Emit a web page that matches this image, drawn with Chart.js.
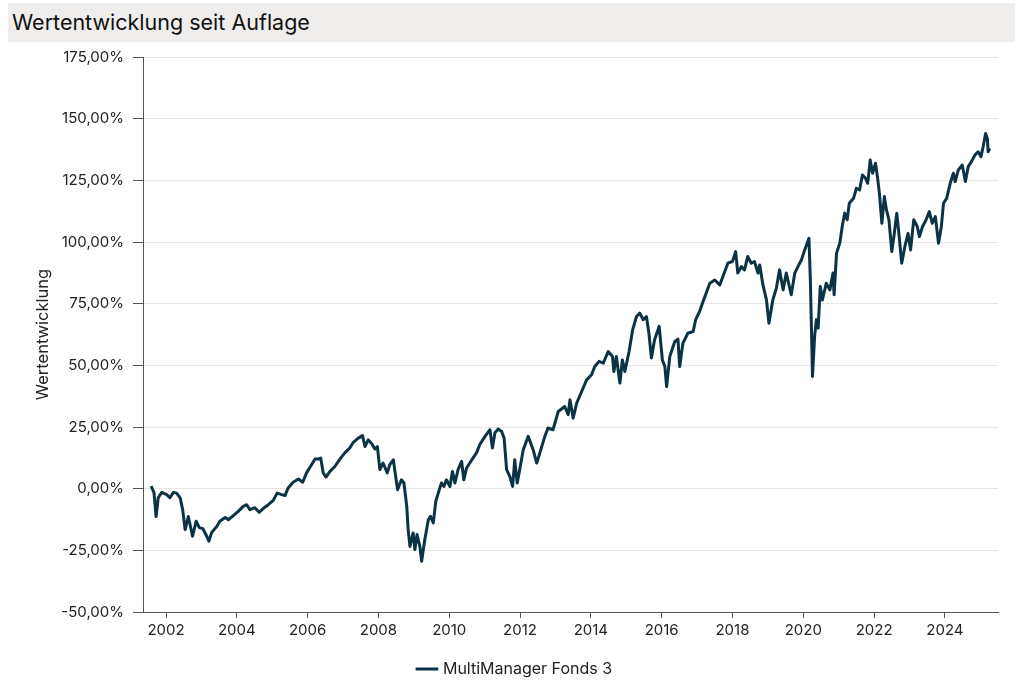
<!DOCTYPE html>
<html>
<head>
<meta charset="utf-8">
<script src="https://cdn.jsdelivr.net/npm/chart.js@4.4.1/dist/chart.umd.min.js"></script>
<style>
  html, body { margin: 0; padding: 0; background: #ffffff; }
  #wrap { position: relative; width: 1019px; height: 680px; }
  #title { position: absolute; left: 8px; top: 3px; width: 1007px; height: 39px; background: #efeeec;
           font-family: Inter, "Noto Sans", sans-serif; font-size: 21.5px; color: #111;
           line-height: 39px; padding-left: 4px; box-sizing: border-box; }
  #c { position: absolute; left: 0; top: 0; }
</style>
</head>
<body>
<div id="wrap">
  <canvas id="c" width="1019" height="680"></canvas>
  <div id="title">Wertentwicklung seit Auflage</div>
</div>
<script>
const seriesName = "MultiManager Fonds 3";
const yAxisTitle = "Wertentwicklung";
const yearTicks = [2002, 2004, 2006, 2008, 2010, 2012, 2014, 2016, 2018, 2020, 2022, 2024];
const valueTicks = [-50, -25, 0, 25, 50, 75, 100, 125, 150, 175];

const dates = [
  2001.58, 2001.66, 2001.72, 2001.78, 2001.88, 2002.02, 2002.11, 2002.21, 2002.30, 2002.40,
  2002.47, 2002.54, 2002.63, 2002.75, 2002.85, 2002.94, 2003.04, 2003.15, 2003.21, 2003.29,
  2003.43, 2003.52, 2003.67, 2003.76, 2003.90, 2004.04, 2004.18, 2004.28, 2004.37, 2004.51,
  2004.63, 2004.77, 2004.89, 2005.03, 2005.14, 2005.27, 2005.36, 2005.45, 2005.59, 2005.74,
  2005.86, 2005.97, 2006.11, 2006.21, 2006.30, 2006.37, 2006.44, 2006.52, 2006.63, 2006.77,
  2006.91, 2007.05, 2007.19, 2007.29, 2007.43, 2007.55, 2007.62, 2007.71, 2007.81, 2007.90,
  2007.97, 2008.04, 2008.13, 2008.25, 2008.32, 2008.42, 2008.54, 2008.65, 2008.72, 2008.80,
  2008.84, 2008.89, 2008.98, 2009.03, 2009.09, 2009.17, 2009.22, 2009.31, 2009.41, 2009.47,
  2009.55, 2009.62, 2009.72, 2009.78, 2009.85, 2009.92, 2010.02, 2010.09, 2010.16, 2010.25,
  2010.35, 2010.41, 2010.49, 2010.58, 2010.67, 2010.77, 2010.86, 2011.01, 2011.15, 2011.22,
  2011.29, 2011.38, 2011.48, 2011.55, 2011.62, 2011.71, 2011.79, 2011.85, 2011.92, 2011.99,
  2012.09, 2012.23, 2012.37, 2012.47, 2012.56, 2012.70, 2012.79, 2012.93, 2013.08, 2013.26,
  2013.36, 2013.41, 2013.50, 2013.60, 2013.74, 2013.88, 2014.02, 2014.11, 2014.23, 2014.35,
  2014.49, 2014.61, 2014.65, 2014.72, 2014.82, 2014.89, 2014.96, 2015.08, 2015.18, 2015.29,
  2015.38, 2015.48, 2015.57, 2015.64, 2015.71, 2015.80, 2015.93, 2016.02, 2016.09, 2016.14,
  2016.23, 2016.37, 2016.46, 2016.51, 2016.60, 2016.74, 2016.89, 2016.96, 2017.07, 2017.17,
  2017.36, 2017.50, 2017.64, 2017.73, 2017.87, 2018.00, 2018.09, 2018.15, 2018.25, 2018.34,
  2018.43, 2018.53, 2018.62, 2018.72, 2018.77, 2018.86, 2018.96, 2019.03, 2019.14, 2019.24,
  2019.33, 2019.43, 2019.52, 2019.66, 2019.76, 2019.85, 2019.95, 2020.04, 2020.16, 2020.20,
  2020.26, 2020.32, 2020.37, 2020.42, 2020.48, 2020.54, 2020.65, 2020.75, 2020.84, 2020.87,
  2020.94, 2021.03, 2021.10, 2021.17, 2021.24, 2021.30, 2021.42, 2021.50, 2021.59, 2021.67,
  2021.76, 2021.82, 2021.89, 2021.96, 2022.04, 2022.10, 2022.15, 2022.22, 2022.29, 2022.35,
  2022.42, 2022.50, 2022.56, 2022.64, 2022.70, 2022.78, 2022.87, 2022.96, 2023.03, 2023.12,
  2023.22, 2023.28, 2023.37, 2023.47, 2023.56, 2023.64, 2023.73, 2023.82, 2023.90, 2023.96,
  2024.05, 2024.15, 2024.24, 2024.29, 2024.38, 2024.49, 2024.58, 2024.66, 2024.75, 2024.85,
  2024.94, 2025.02, 2025.08, 2025.15, 2025.20, 2025.22, 2025.27
];

const values = [
  1.0, -1.6, -11.3, -3.7, -1.5, -2.4, -3.7, -1.5, -1.8, -3.7,
  -8.5, -16.6, -11.3, -19.3, -13.2, -15.8, -16.2, -19.3, -21.3, -17.8,
  -15.4, -13.2, -11.7, -12.6, -10.9, -9.2, -7.2, -6.5, -8.5, -7.7,
  -9.6, -7.7, -6.5, -4.7, -1.8, -2.4, -2.8, 0.3, 2.6, 3.9,
  2.6, 6.4, 9.7, 12.0, 12.0, 12.4, 6.4, 4.7, 7.0, 9.0,
  12.0, 14.5, 16.5, 18.8, 20.5, 21.5, 17.1, 19.8, 18.2, 16.1,
  17.1, 7.7, 10.4, 6.4, 9.7, 11.7, -0.4, 3.6, 2.3, -7.2,
  -16.6, -23.4, -18.0, -24.7, -18.6, -23.4, -29.4, -20.6, -12.6, -11.2,
  -13.9, -5.1, -0.4, 2.3, 0.9, 3.6, 0.9, 7.0, 2.3, 7.7,
  11.1, 3.6, 8.4, 10.4, 12.4, 14.5, 17.8, 21.2, 23.9, 16.5,
  22.6, 24.2, 23.2, 20.5, 7.7, 5.0, 0.9, 11.7, 2.3, 7.7,
  15.8, 21.2, 15.8, 10.4, 14.5, 21.2, 24.6, 23.9, 31.3, 33.3,
  30.0, 36.0, 28.6, 34.7, 39.4, 44.1, 46.2, 49.5, 51.6, 50.9,
  55.6, 53.6, 47.5, 53.6, 42.8, 52.2, 47.5, 55.6, 64.4, 69.8,
  71.2, 68.5, 69.8, 63.0, 53.0, 60.4, 65.8, 52.2, 49.5, 41.4,
  53.6, 59.7, 60.6, 49.5, 59.0, 63.0, 63.7, 68.5, 71.8, 75.9,
  83.3, 84.6, 82.6, 86.0, 91.4, 92.1, 96.1, 87.4, 90.0, 88.7,
  94.1, 91.4, 92.1, 87.4, 90.7, 82.6, 76.5, 67.1, 76.5, 81.3,
  88.7, 80.6, 87.4, 78.6, 87.4, 90.0, 92.8, 96.8, 101.5, 84.6,
  45.5, 61.7, 68.5, 65.1, 82.0, 76.5, 83.3, 80.6, 87.4, 78.6,
  95.5, 99.5, 106.3, 111.7, 109.0, 115.7, 117.7, 121.8, 121.1, 127.2,
  125.8, 123.8, 133.2, 127.9, 131.9, 125.8, 119.8, 107.6, 118.4, 113.0,
  109.0, 96.1, 102.2, 111.7, 103.5, 91.4, 98.2, 103.5, 96.8, 109.0,
  106.3, 102.2, 106.3, 109.0, 112.3, 107.6, 110.3, 99.5, 106.3, 115.7,
  117.7, 123.8, 127.9, 124.5, 129.2, 131.2, 124.5, 130.6, 132.6, 135.3,
  136.6, 134.6, 138.6, 144.0, 142.0, 136.6, 138.0
];

const points = dates.map((d, i) => ({ x: d, y: values[i] }));
const FONT = "Inter, 'Noto Sans', sans-serif";
const lineColor = "#0a3346";

const legendShift = {
  id: 'legendShift',
  afterLayout(chart) {
    const lg = chart.legend;
    if (lg) {
      lg.top += 7; lg.bottom += 7;
      (lg.legendHitBoxes || []).forEach(b => { b.top += 7; });
    }
  }
};

new Chart(document.getElementById('c'), {
  type: 'line',
  plugins: [legendShift],
  data: {
    datasets: [{
      label: seriesName,
      data: points,
      borderColor: lineColor,
      backgroundColor: lineColor,
      borderWidth: 3,
      pointRadius: 0,
      tension: 0,
      borderJoinStyle: 'round'
    }]
  },
  options: {
    responsive: false,
    animation: false,
    layout: { padding: { left: 33, right: 21, top: 57, bottom: 0 } },
    plugins: {
      legend: {
        position: 'bottom',
        labels: {
          font: { family: FONT, size: 16 },
          color: '#222',
          usePointStyle: true,
          pointStyle: 'line',
          boxWidth: 20,
          padding: 4
        }
      },
      tooltip: { enabled: false }
    },
    scales: {
      x: {
        type: 'linear',
        min: 2001.35,
        max: 2025.5,
        afterBuildTicks: (scale) => { scale.ticks = yearTicks.map(v => ({ value: v })); },
        afterFit: (scale) => { scale.height = 38; },
        ticks: {
          callback: (v) => String(v),
          font: { family: FONT, size: 15 },
          color: '#222',
          maxRotation: 0,
          autoSkip: false,
          padding: 3
        },
        grid: { drawOnChartArea: false, drawTicks: true, tickLength: 6, tickColor: '#555', color: '#555' },
        border: { display: true, color: '#555', width: 1 }
      },
      y: {
        min: -50,
        max: 175,
        afterBuildTicks: (scale) => { scale.ticks = valueTicks.map(v => ({ value: v })); },
        afterFit: (scale) => { scale.width = 110; },
        ticks: {
          callback: (v) => v.toFixed(2).replace('.', ',') + '%',
          font: { family: FONT, size: 15 },
          color: '#222',
          padding: 9
        },
        title: {
          display: true,
          text: yAxisTitle,
          font: { family: FONT, size: 16.5 },
          color: '#222',
          padding: { top: 0, bottom: 4 }
        },
        grid: { color: '#e6e6e6', lineWidth: 1, tickLength: 10, tickColor: '#555' },
        border: { display: true, color: '#555', width: 1 }
      }
    }
  }
});
</script>
</body>
</html>
